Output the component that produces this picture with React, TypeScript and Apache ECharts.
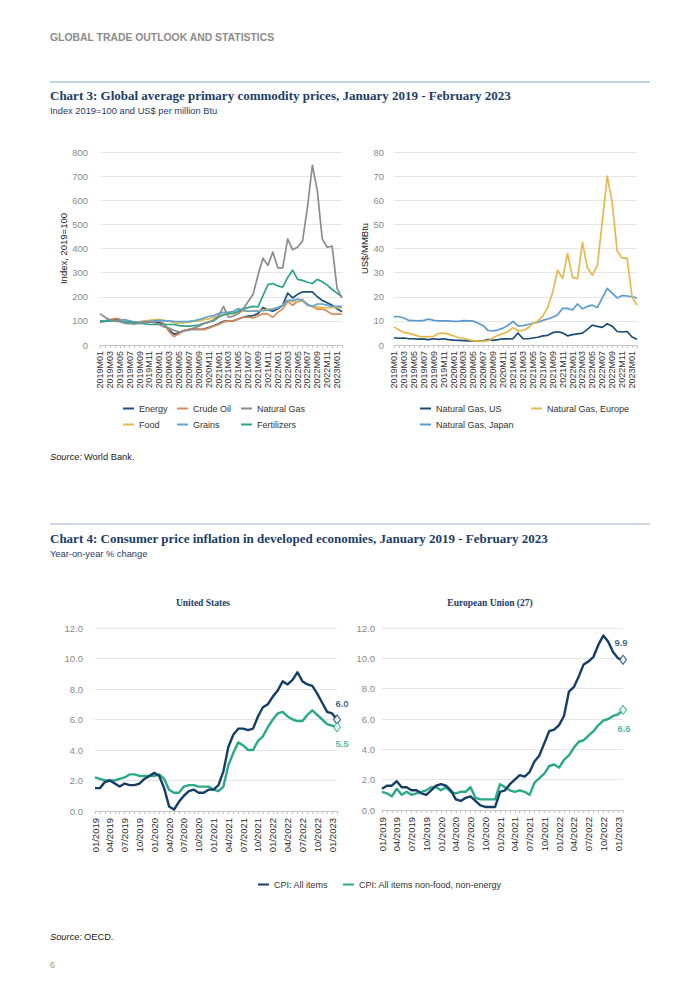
import React, { useEffect, useRef } from "react";
import * as echarts from "echarts";

// ---------- Categories ----------
const years = [2019, 2020, 2021, 2022, 2023];
const pad = (m: number) => (m < 10 ? "0" + m : "" + m);
const catMonthly: string[] = [];
const catSlash: string[] = [];
years.forEach((y) => {
  const last = y === 2023 ? 2 : 12;
  for (let m = 1; m <= last; m++) {
    catMonthly.push(`${y}M${pad(m)}`);
    catSlash.push(`${pad(m)}/${y}`);
  }
});

// ---------- Chart 3 (left): Index 2019=100 ----------
const energy = [
  95, 100, 103, 105, 102, 95, 95, 90, 92, 92, 95, 97,
  93, 85, 62, 45, 50, 60, 64, 66, 65, 66, 72, 80,
  88, 98, 100, 100, 108, 115, 120, 122, 130, 155, 145, 140,
  150, 165, 215, 195, 210, 220, 220, 220, 200, 185, 175, 165,
  150, 138,
];
const crudeOil = [
  92, 100, 105, 110, 108, 95, 97, 90, 92, 92, 97, 100,
  100, 88, 55, 35, 47, 60, 65, 68, 65, 64, 70, 78,
  85, 95, 100, 100, 107, 115, 115, 112, 120, 130, 128, 115,
  135, 150, 180, 165, 180, 185, 170, 160, 148, 150, 140, 128,
  128, 128,
];
const naturalGas = [
  130, 115, 105, 100, 98, 90, 88, 87, 90, 95, 97, 93,
  85, 75, 70, 60, 55, 58, 62, 70, 78, 88, 95, 105,
  120, 160, 115, 120, 130, 150, 180, 210, 290, 360, 330, 385,
  320, 320, 440, 395, 405, 430, 570, 745, 640, 440, 405, 410,
  235, 195,
];
const food = [
  100, 100, 100, 98, 98, 100, 98, 96, 97, 100, 102, 105,
  105, 102, 98, 92, 90, 93, 95, 98, 100, 105, 108, 115,
  120, 125, 130, 130, 135, 140, 140, 142, 143, 145, 148, 150,
  155, 165, 185, 180, 180, 190, 165, 160, 158, 155, 155, 155,
  155, 155,
];
const grains = [
  100, 100, 100, 100, 102, 105, 100, 95, 95, 97, 98, 100,
  102, 100, 100, 98, 97, 97, 98, 100, 105, 112, 118, 122,
  130, 135, 135, 140, 150, 145, 140, 140, 140, 142, 145, 148,
  155, 165, 185, 185, 190, 185, 165, 160, 170, 170, 165, 160,
  160, 160,
];
const fertilizers = [
  100, 98, 100, 100, 98, 95, 95, 92, 90, 88, 85, 85,
  85, 85, 85, 85, 80, 78, 78, 80, 83, 90, 95, 100,
  115, 125, 130, 132, 140, 150, 155, 160, 158, 205, 250, 255,
  245, 240, 280, 310, 272, 268, 260, 255, 272, 262, 248, 230,
  215, 200,
];

// ---------- Chart 3 (right): US$/MMBtu ----------
const gasUS = [
  3.0, 2.8, 2.9, 2.6, 2.6, 2.4, 2.4, 2.2, 2.6, 2.3, 2.6, 2.2,
  2.0, 1.9, 1.8, 1.7, 1.7, 1.6, 1.7, 2.3, 1.9, 2.2, 2.6, 2.5,
  2.6, 5.0, 2.6, 2.6, 2.9, 3.2, 3.8, 4.0, 5.1, 5.5, 5.0, 3.8,
  4.3, 4.6, 4.9, 6.5, 8.2, 7.7, 7.3, 8.8, 7.8, 5.6, 5.4, 5.6,
  3.3, 2.4,
];
const gasEurope = [
  7.5, 6.2, 5.2, 4.8, 4.3, 3.6, 3.4, 3.5, 3.6, 4.8, 4.9, 4.5,
  3.8, 3.0, 2.8, 2.2, 1.8, 1.6, 1.5, 1.8, 3.0, 4.0, 4.7, 5.6,
  7.2, 6.0, 6.0, 7.0, 8.9, 10.0, 12.0, 15.5, 22.0, 31.0, 27.5, 38.0,
  28.0, 27.5, 42.5, 32.0, 29.0, 33.0, 51.0, 70.0, 59.0, 39.0, 36.0, 36.0,
  20.0, 16.5,
];
const gasJapan = [
  11.8, 11.7, 11.2, 10.2, 10.1, 10.0, 10.2, 10.7, 10.2, 10.0, 10.0, 10.0,
  9.8, 9.8, 10.1, 10.0, 9.9, 9.0, 8.0, 6.0, 5.8, 6.3, 7.0, 8.2,
  9.8, 7.9, 8.0, 8.5, 9.0, 9.5, 10.2, 10.8, 11.5, 12.5, 15.2, 15.2,
  14.5, 17.0, 15.0, 16.0, 16.5, 15.5, 19.5, 23.5, 21.5, 19.5, 20.5, 20.3,
  20.0, 19.5,
];

// ---------- Chart 4: CPI year-on-year % ----------
const usAll = [
  1.5, 1.5, 1.9, 2.0, 1.8, 1.6, 1.8, 1.7, 1.7, 1.8, 2.1, 2.3,
  2.5, 2.3, 1.5, 0.3, 0.1, 0.6, 1.0, 1.3, 1.4, 1.2, 1.2, 1.4,
  1.4, 1.7, 2.6, 4.2, 5.0, 5.4, 5.4, 5.3, 5.4, 6.2, 6.8, 7.0,
  7.5, 7.9, 8.5, 8.3, 8.6, 9.1, 8.5, 8.3, 8.2, 7.7, 7.1, 6.5,
  6.4, 6.0,
];
const usCore = [
  2.2, 2.1, 2.0, 2.0, 2.0, 2.1, 2.2, 2.4, 2.4, 2.3, 2.3, 2.3,
  2.3, 2.4, 2.1, 1.4, 1.2, 1.2, 1.6, 1.7, 1.7, 1.6, 1.6, 1.6,
  1.4, 1.3, 1.6, 3.0, 3.8, 4.5, 4.3, 4.0, 4.0, 4.6, 4.9, 5.5,
  6.0, 6.4, 6.5, 6.2, 6.0, 5.9, 5.9, 6.3, 6.6, 6.3, 6.0, 5.7,
  5.6, 5.5,
];
const euAll = [
  1.4, 1.6, 1.6, 1.9, 1.5, 1.5, 1.3, 1.3, 1.1, 1.0, 1.3, 1.6,
  1.7, 1.6, 1.3, 0.7, 0.6, 0.8, 0.9, 0.6, 0.3, 0.2, 0.2, 0.2,
  1.2, 1.3, 1.7, 2.0, 2.3, 2.2, 2.5, 3.2, 3.6, 4.4, 5.2, 5.3,
  5.6, 6.2, 7.8, 8.1, 8.8, 9.6, 9.8, 10.1, 10.9, 11.5, 11.1, 10.4,
  10.0, 9.9,
];
const euCore = [
  1.2, 1.1, 0.9, 1.4, 1.0, 1.2, 1.0, 1.1, 1.2, 1.3, 1.5, 1.5,
  1.3, 1.5, 1.2, 1.1, 1.2, 1.2, 1.5, 0.8, 0.7, 0.7, 0.7, 0.7,
  1.7, 1.5, 1.3, 1.2, 1.3, 1.2, 1.0, 1.8, 2.1, 2.4, 2.9, 3.0,
  2.8, 3.3, 3.6, 4.1, 4.5, 4.6, 4.9, 5.2, 5.6, 5.9, 6.0, 6.2,
  6.3, 6.6,
];

const SANS = "'Liberation Sans', Arial, Helvetica, sans-serif";
const SERIF = "'Liberation Serif', 'DejaVu Serif', serif";
const TITLE_NAVY = "#1c3d6a";

const C = {
  energy: "#1f4e79",
  crude: "#d98c57",
  natgas: "#8c8c8c",
  food: "#e7b94c",
  grains: "#5fa2d5",
  fert: "#2ba48b",
  us: "#1b4a73",
  eu: "#e7b94c",
  jp: "#5b9bd0",
  all: "#153e66",
  core: "#2aa987",
};

export default function App() {
  const ref = useRef<HTMLDivElement>(null);

  useEffect(() => {
    if (!ref.current) return;
    const chart = echarts.init(ref.current, undefined, { renderer: "svg" });

    const xCat3 = (gi: number) => ({
      gridIndex: gi,
      type: "category",
      data: catMonthly,
      boundaryGap: false,
      axisLine: { lineStyle: { color: "#c4c4c4" } },
      axisTick: { show: true, interval: 0, length: 3, lineStyle: { color: "#c4c4c4" } },
      axisLabel: { interval: 1, rotate: 90, fontSize: 9, color: "#333", fontFamily: SANS, margin: 6 },
      splitLine: { show: false },
    });
    const xCat4 = (gi: number) => ({
      gridIndex: gi,
      type: "category",
      data: catSlash,
      boundaryGap: false,
      axisLine: { lineStyle: { color: "#c4c4c4" } },
      axisTick: { show: true, interval: 0, length: 3, lineStyle: { color: "#c4c4c4" } },
      axisLabel: { interval: 2, rotate: 90, fontSize: 9.5, color: "#2a2a2a", fontFamily: SANS, margin: 7 },
      splitLine: { show: false },
    });
    const yVal = (gi: number, max: number, interval: number, margin: number, extra: any = {}) => ({
      gridIndex: gi,
      type: "value",
      min: 0,
      max,
      interval,
      axisLine: { show: false },
      axisTick: { show: false },
      axisLabel: { color: "#8a8a8a", fontSize: 9.5, fontFamily: SANS, margin },
      splitLine: { lineStyle: { color: "#e6e6e6", width: 1 } },
      ...extra,
    });

    const line = (name: string, data: number[], color: string, xi: number, width = 1.7) => ({
      name,
      type: "line",
      xAxisIndex: xi,
      yAxisIndex: xi,
      data,
      symbol: "none",
      lineStyle: { color, width, join: "round" },
      itemStyle: { color },
      emphasis: { disabled: true },
    });

    const endMark = (
      xi: number,
      arr: number[],
      color: string,
      position: string,
      offset: number[]
    ) => ({
      type: "scatter",
      xAxisIndex: xi,
      yAxisIndex: xi,
      data: [[arr.length - 1, arr[arr.length - 1]]],
      symbol: "diamond",
      symbolSize: [7, 9],
      itemStyle: { color: "#ffffff", borderColor: color, borderWidth: 1.2 },
      label: {
        show: true,
        position,
        offset,
        formatter: (p: any) => Number(p.value[1]).toFixed(1),
        color,
        fontWeight: "bold",
        fontSize: 9.5,
        fontFamily: SANS,
      },
      z: 5,
      emphasis: { disabled: true },
    });

    const legendText = { fontSize: 9, color: "#333", fontFamily: SANS };
    const legendBase = {
      orient: "vertical",
      icon: "rect",
      itemWidth: 11,
      itemHeight: 2,
      itemGap: 7,
      textStyle: legendText,
      selectedMode: false,
      padding: 0,
    };

    const text = (x: number, y: number, t: string, font: string, fill: string, align = "left") => ({
      type: "text",
      x,
      y,
      style: { text: t, font, fill, align, verticalAlign: "middle" },
    });

    chart.setOption({
      animation: false,
      backgroundColor: "#ffffff",
      grid: [
        { left: 100, top: 152, width: 242, height: 193 },
        { left: 394, top: 152, width: 243, height: 193 },
        { left: 95, top: 628, width: 242, height: 183 },
        { left: 382, top: 628, width: 241, height: 182 },
      ],
      xAxis: [xCat3(0), xCat3(1), xCat4(2), xCat4(3)],
      yAxis: [
        yVal(0, 800, 100, 12, {
          name: "Index, 2019=100",
          nameLocation: "middle",
          nameGap: 31,
          nameTextStyle: { color: "#222", fontSize: 9.5, fontFamily: SANS },
        }),
        yVal(1, 80, 10, 10, {
          name: "US$/MMBtu",
          nameLocation: "middle",
          nameGap: 25,
          nameTextStyle: { color: "#222", fontSize: 9.5, fontFamily: SANS },
        }),
        yVal(2, 12, 2, 12, { axisLabel: { color: "#8a8a8a", fontSize: 9.5, fontFamily: SANS, margin: 12, formatter: (v: number) => v.toFixed(1) } }),
        yVal(3, 12, 2, 7, { axisLabel: { color: "#8a8a8a", fontSize: 9.5, fontFamily: SANS, margin: 7, formatter: (v: number) => v.toFixed(1) } }),
      ],
      legend: [
        { ...legendBase, left: 123, top: 404, data: ["Energy", "Food"] },
        { ...legendBase, left: 177, top: 404, data: ["Crude Oil", "Grains"] },
        { ...legendBase, left: 241, top: 404, data: ["Natural Gas", "Fertilizers"] },
        { ...legendBase, left: 420, top: 404, data: ["Natural Gas, US", "Natural Gas, Japan"] },
        { ...legendBase, left: 531, top: 404, data: ["Natural Gas, Europe"] },
        {
          ...legendBase,
          orient: "horizontal",
          left: 258,
          top: 880,
          itemGap: 15,
          data: ["CPI: All items", "CPI: All items non-food, non-energy"],
        },
      ],
      series: [
        line("Energy", energy, C.energy, 0),
        line("Crude Oil", crudeOil, C.crude, 0),
        line("Food", food, C.food, 0),
        line("Grains", grains, C.grains, 0),
        line("Fertilizers", fertilizers, C.fert, 0),
        line("Natural Gas", naturalGas, C.natgas, 0),
        line("Natural Gas, US", gasUS, C.us, 1),
        line("Natural Gas, Japan", gasJapan, C.jp, 1),
        line("Natural Gas, Europe", gasEurope, C.eu, 1),
        line("CPI: All items non-food, non-energy", usCore, C.core, 2, 2.4),
        line("CPI: All items", usAll, C.all, 2, 2.4),
        line("CPI: All items non-food, non-energy", euCore, C.core, 3, 2.4),
        line("CPI: All items", euAll, C.all, 3, 2.4),
        endMark(2, usAll, C.all, "top", [5, -1]),
        endMark(2, usCore, C.core, "bottom", [5, 1]),
        endMark(3, euAll, C.all, "top", [-2, -2]),
        endMark(3, euCore, C.core, "bottom", [1, 3]),
      ],
      graphic: [
        text(50, 37, "GLOBAL TRADE OUTLOOK AND STATISTICS", `bold 10.4px ${SANS}`, "#8c8c8c"),
        { type: "line", shape: { x1: 50, y1: 82, x2: 650, y2: 82 }, style: { stroke: "#7fa6cc", lineWidth: 1 } },
        text(50, 95, "Chart 3: Global average primary commodity prices, January 2019 - February 2023", `bold 13px ${SERIF}`, TITLE_NAVY),
        text(50, 111, "Index 2019=100 and US$ per million Btu", `9.3px ${SANS}`, TITLE_NAVY),
        text(50, 457, "Source:", `italic 9.3px ${SANS}`, "#222"),
        text(84, 457, "World Bank.", `9.3px ${SANS}`, "#222"),
        { type: "line", shape: { x1: 50, y1: 524, x2: 650, y2: 524 }, style: { stroke: "#9fb0c2", lineWidth: 1 } },
        text(50, 538, "Chart 4: Consumer price inflation in developed economies, January 2019 - February 2023", `bold 13px ${SERIF}`, TITLE_NAVY),
        text(50, 554, "Year-on-year % change", `9.3px ${SANS}`, TITLE_NAVY),
        text(203, 603, "United States", `bold 9.5px ${SERIF}`, TITLE_NAVY, "center"),
        text(490, 603, "European Union (27)", `bold 9.5px ${SERIF}`, TITLE_NAVY, "center"),
        text(50, 937, "Source:", `italic 9.3px ${SANS}`, "#222"),
        text(84, 937, "OECD.", `9.3px ${SANS}`, "#222"),
        text(50, 965, "6", `9px ${SANS}`, "#999"),
      ],
    });

    return () => chart.dispose();
  }, []);

  return (
    <div
      ref={ref}
      style={{ position: "absolute", left: 0, top: 0, width: 700, height: 990, background: "#fff" }}
    />
  );
}
